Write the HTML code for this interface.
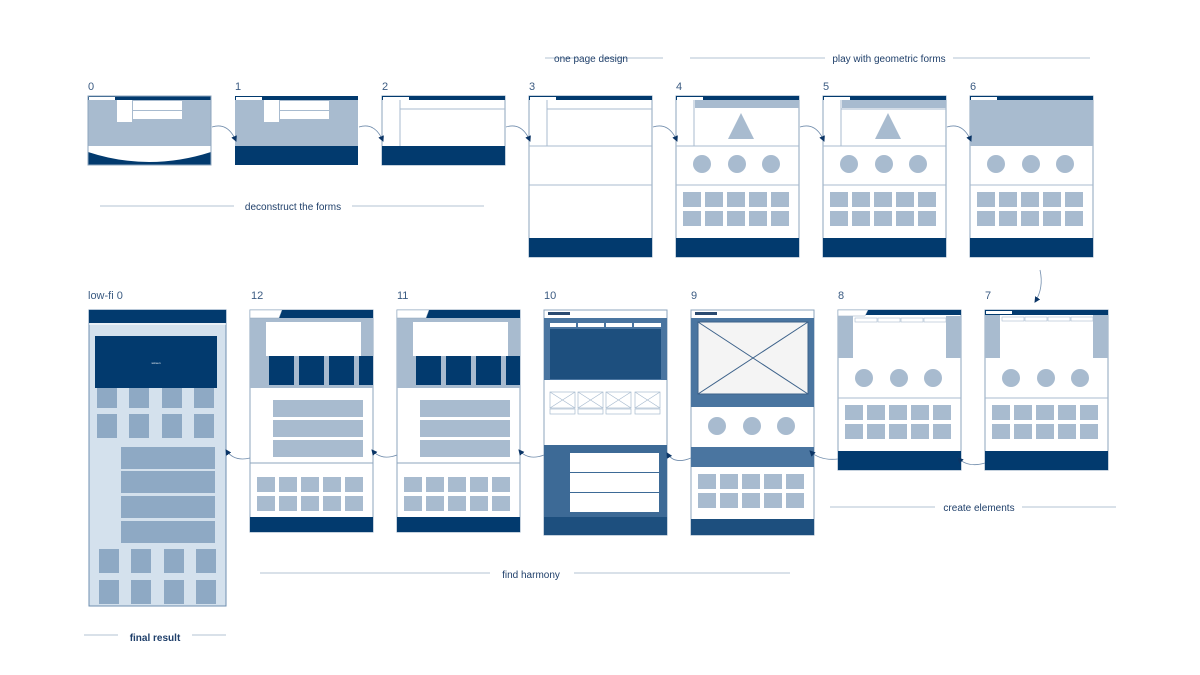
<!DOCTYPE html>
<html><head><meta charset="utf-8"><style>
html,body{margin:0;padding:0;background:#fff;}
svg{display:block;font-family:"Liberation Sans",sans-serif;}
</style></head><body>
<svg width="1200" height="675" viewBox="0 0 1200 675" xmlns="http://www.w3.org/2000/svg">
<defs>
<marker id="ah" markerWidth="6" markerHeight="6" refX="5" refY="3" orient="auto" markerUnits="userSpaceOnUse"><path d="M0,0 L6,3 L0,6 z" fill="#0b3566"/></marker>
<g id="grid5">
 <rect x="7" y="0" width="18" height="15" fill="#a8bbcf"/><rect x="29" y="0" width="18" height="15" fill="#a8bbcf"/><rect x="51" y="0" width="18" height="15" fill="#a8bbcf"/><rect x="73" y="0" width="18" height="15" fill="#a8bbcf"/><rect x="95" y="0" width="18" height="15" fill="#a8bbcf"/>
 <rect x="7" y="19" width="18" height="15" fill="#a8bbcf"/><rect x="29" y="19" width="18" height="15" fill="#a8bbcf"/><rect x="51" y="19" width="18" height="15" fill="#a8bbcf"/><rect x="73" y="19" width="18" height="15" fill="#a8bbcf"/><rect x="95" y="19" width="18" height="15" fill="#a8bbcf"/>
</g>
<g id="circ3"><circle cx="26" cy="0" r="9" fill="#a8bbcf"/><circle cx="61" cy="0" r="9" fill="#a8bbcf"/><circle cx="95" cy="0" r="9" fill="#a8bbcf"/></g>
<g id="logoW"><rect x="1" y="1" width="26" height="3" fill="#fff"/></g>
</defs>

<g fill="#3b5b82" font-size="11">
<text x="88" y="90">0</text><text x="235" y="90">1</text><text x="382" y="90">2</text><text x="529" y="90">3</text><text x="676" y="90">4</text><text x="823" y="90">5</text><text x="970" y="90">6</text>
<text x="88" y="299">low-fi  0</text><text x="251" y="299">12</text><text x="397" y="299">11</text><text x="544" y="299">10</text><text x="691" y="299">9</text><text x="838" y="299">8</text><text x="985" y="299">7</text>
</g>

<g stroke="#b3c3d3" stroke-width="1">
<line x1="545" y1="58" x2="578" y2="58"/><line x1="604" y1="58" x2="663" y2="58"/>
<line x1="690" y1="58" x2="825" y2="58"/><line x1="953" y1="58" x2="1090" y2="58"/>
<line x1="100" y1="206" x2="234" y2="206"/><line x1="352" y1="206" x2="484" y2="206"/>
<line x1="830" y1="507" x2="935" y2="507"/><line x1="1022" y1="507" x2="1116" y2="507"/>
<line x1="260" y1="573" x2="490" y2="573"/><line x1="574" y1="573" x2="790" y2="573"/>
<line x1="84" y1="635" x2="118" y2="635"/><line x1="192" y1="635" x2="226" y2="635"/>
</g>
<g fill="#1f3f6a" font-size="10" text-anchor="middle">
<text x="591" y="62">one page design</text>
<text x="889" y="62">play with geometric forms</text>
<text x="293" y="210">deconstruct the forms</text>
<text x="979" y="511">create elements</text>
<text x="531" y="578">find harmony</text>
<text x="155" y="641" font-weight="bold">final result</text>
</g>

<!-- frame 0 -->
<g transform="translate(88,96)">
<rect width="123" height="69" fill="#a8bbcf"/>
<rect width="123" height="4" fill="#023a6e"/><use href="#logoW"/>
<rect x="29" y="4" width="15" height="22" fill="#fff"/>
<rect x="45" y="5" width="49" height="9" fill="#fff"/><rect x="45" y="15" width="49" height="8" fill="#fff"/>
<rect x="0" y="50" width="123" height="19" fill="#023a6e"/>
<path d="M0,50 H123 V56 Q61,76 0,56 Z" fill="#fff"/>
<rect width="123" height="69" fill="none" stroke="#8ea5bd"/>
</g>
<!-- frame 1 -->
<g transform="translate(235,96)">
<rect width="123" height="69" fill="#a8bbcf"/>
<rect width="123" height="4" fill="#023a6e"/><use href="#logoW"/>
<rect x="29" y="4" width="15" height="22" fill="#fff"/>
<rect x="45" y="5" width="49" height="9" fill="#fff"/><rect x="45" y="15" width="49" height="8" fill="#fff"/>
<rect x="0" y="50" width="123" height="19" fill="#023a6e"/>
</g>
<!-- frame 2 -->
<g transform="translate(382,96)">
<rect width="123" height="69" fill="#fff" stroke="#8ea5bd"/>
<rect width="123" height="4" fill="#023a6e"/><use href="#logoW"/>
<line x1="18" y1="4" x2="18" y2="50" stroke="#a8bbcf"/><line x1="18" y1="13" x2="123" y2="13" stroke="#a8bbcf"/>
<rect x="0" y="50" width="123" height="19" fill="#023a6e"/>
</g>
<!-- frame 3 -->
<g transform="translate(529,96)">
<rect width="123" height="161" fill="#fff" stroke="#8ea5bd"/>
<rect width="123" height="4" fill="#023a6e"/><use href="#logoW"/>
<line x1="18" y1="4" x2="18" y2="50" stroke="#a8bbcf"/><line x1="18" y1="13" x2="123" y2="13" stroke="#a8bbcf"/>
<line x1="0" y1="50" x2="123" y2="50" stroke="#a8bbcf"/><line x1="0" y1="89" x2="123" y2="89" stroke="#a8bbcf"/>
<rect x="0" y="142" width="123" height="19" fill="#023a6e"/>
</g>
<!-- frame 4,5 -->
<g transform="translate(676,96)">
<rect width="123" height="161" fill="#fff" stroke="#8ea5bd"/>
<rect width="123" height="4" fill="#023a6e"/><use href="#logoW"/>
<rect x="19" y="4" width="104" height="8" fill="#a8bbcf"/>
<line x1="18" y1="4" x2="18" y2="50" stroke="#a8bbcf"/>
<path d="M65,17 L78,43 L52,43 Z" fill="#a8bbcf"/>
<line x1="0" y1="50" x2="123" y2="50" stroke="#a8bbcf"/><line x1="0" y1="89" x2="123" y2="89" stroke="#a8bbcf"/>
<use href="#circ3" y="68"/><use href="#grid5" y="96"/>
<rect x="0" y="142" width="123" height="19" fill="#023a6e"/>
</g>
<g transform="translate(823,96)">
<rect width="123" height="161" fill="#fff" stroke="#8ea5bd"/>
<rect width="123" height="4" fill="#023a6e"/><use href="#logoW"/>
<rect x="19" y="4" width="104" height="8" fill="#a8bbcf"/>
<line x1="18" y1="4" x2="18" y2="50" stroke="#a8bbcf"/><line x1="18" y1="13" x2="123" y2="13" stroke="#a8bbcf"/>
<path d="M65,17 L78,43 L52,43 Z" fill="#a8bbcf"/>
<line x1="0" y1="50" x2="123" y2="50" stroke="#a8bbcf"/><line x1="0" y1="89" x2="123" y2="89" stroke="#a8bbcf"/>
<use href="#circ3" y="68"/><use href="#grid5" y="96"/>
<rect x="0" y="142" width="123" height="19" fill="#023a6e"/>
</g>
<!-- frame 6 -->
<g transform="translate(970,96)">
<rect width="123" height="161" fill="#fff" stroke="#8ea5bd"/>
<rect width="123" height="50" fill="#a8bbcf"/>
<rect width="123" height="4" fill="#023a6e"/><use href="#logoW"/>
<line x1="0" y1="89" x2="123" y2="89" stroke="#a8bbcf"/>
<use href="#circ3" y="68"/><use href="#grid5" y="96"/>
<rect x="0" y="142" width="123" height="19" fill="#023a6e"/>
</g>

<!-- frame 7, 8 -->
<g transform="translate(985,310)">
<rect width="123" height="160" fill="#fff" stroke="#8ea5bd"/>
<rect width="123" height="5" fill="#023a6e"/><use href="#logoW"/>
<rect x="0" y="5" width="15" height="43" fill="#a8bbcf"/><rect x="108" y="5" width="15" height="43" fill="#a8bbcf"/>
<g fill="#fff" stroke="#a8bbcf" stroke-width="0.6"><rect x="17" y="7" width="22" height="4"/><rect x="40" y="7" width="22" height="4"/><rect x="63" y="7" width="22" height="4"/><rect x="86" y="7" width="22" height="4"/></g>
<line x1="0" y1="88" x2="123" y2="88" stroke="#a8bbcf"/>
<use href="#circ3" y="68"/><use href="#grid5" y="95"/>
<rect x="0" y="141" width="123" height="19" fill="#023a6e"/>
</g>
<g transform="translate(838,310)">
<rect width="123" height="160" fill="#fff" stroke="#8ea5bd"/>
<rect width="123" height="5" fill="#023a6e"/><path d="M0,0 H30 L27,6 H0 Z" fill="#fff" stroke="#8ea5bd" stroke-width="0.5"/>
<rect x="0" y="6" width="15" height="42" fill="#a8bbcf"/><rect x="108" y="6" width="15" height="42" fill="#a8bbcf"/>
<g fill="#fff" stroke="#a8bbcf" stroke-width="0.6"><rect x="17" y="8" width="22" height="4"/><rect x="40" y="8" width="22" height="4"/><rect x="63" y="8" width="22" height="4"/><rect x="86" y="8" width="22" height="4"/></g>
<line x1="0" y1="88" x2="123" y2="88" stroke="#a8bbcf"/>
<use href="#circ3" y="68"/><use href="#grid5" y="95"/>
<rect x="0" y="141" width="123" height="19" fill="#023a6e"/>
</g>
<!-- frame 9 -->
<g transform="translate(691,310)">
<rect width="123" height="225" fill="#fff" stroke="#8ea5bd"/>
<rect x="0" y="8" width="123" height="89" fill="#4a75a0"/>
<rect x="7" y="12" width="110" height="72" fill="#f4f4f4" stroke="#3d628a"/>
<line x1="7" y1="12" x2="117" y2="84" stroke="#3d628a"/><line x1="117" y1="12" x2="7" y2="84" stroke="#3d628a"/>
<use href="#circ3" y="116"/>
<rect x="0" y="137" width="123" height="20" fill="#4a75a0"/>
<use href="#grid5" y="164"/>
<rect x="0" y="209" width="123" height="16" fill="#1d4f7e"/>
<rect x="4" y="2" width="22" height="3" fill="#2a4a70"/>
</g>
<!-- frame 10 -->
<g transform="translate(544,310)">
<rect width="123" height="225" fill="#fff" stroke="#8ea5bd"/>
<rect x="0" y="8" width="123" height="62" fill="#4a75a0"/>
<g fill="#fff"><rect x="6" y="13" width="26" height="4"/><rect x="34" y="13" width="26" height="4"/><rect x="62" y="13" width="26" height="4"/><rect x="90" y="13" width="27" height="4"/></g>
<rect x="6" y="19" width="111" height="50" fill="#1d4f7e"/>
<g fill="none" stroke="#a8bbcf" stroke-width="0.7">
<rect x="6" y="82" width="25" height="16"/><rect x="34" y="82" width="25" height="16"/><rect x="62" y="82" width="25" height="16"/><rect x="91" y="82" width="25" height="16"/>
<path d="M6,82 L31,98 M31,82 L6,98 M34,82 L59,98 M59,82 L34,98 M62,82 L87,98 M87,82 L62,98 M91,82 L116,98 M116,82 L91,98"/>
<rect x="6" y="99" width="25" height="5"/><rect x="34" y="99" width="25" height="5"/><rect x="62" y="99" width="25" height="5"/><rect x="91" y="99" width="25" height="5"/>
</g>
<rect x="0" y="135" width="123" height="72" fill="#3d6a96"/>
<g fill="#fff"><rect x="26" y="143" width="89" height="19"/><rect x="26" y="163" width="89" height="19"/><rect x="26" y="183" width="89" height="19"/></g>
<rect x="0" y="207" width="123" height="18" fill="#1d4f7e"/>
<rect x="4" y="2" width="22" height="3" fill="#2a4a70"/>
</g>
<!-- frame 11, 12 -->
<g transform="translate(397,310)">
<rect width="123" height="222" fill="#fff" stroke="#8ea5bd"/>
<rect x="0" y="8" width="123" height="70" fill="#a8bbcf"/>
<rect x="16" y="12" width="95" height="34" fill="#fff"/>
<g fill="#023a6e"><rect x="19" y="46" width="25" height="29"/><rect x="49" y="46" width="25" height="29"/><rect x="79" y="46" width="25" height="29"/><rect x="109" y="46" width="14" height="29"/></g>
<rect width="123" height="8" fill="#023a6e"/><path d="M0,0 H32 L29,8 H0 Z" fill="#fff" stroke="#8ea5bd" stroke-width="0.5"/>
<g fill="#a8bbcf"><rect x="23" y="90" width="90" height="17"/><rect x="23" y="110" width="90" height="17"/><rect x="23" y="130" width="90" height="17"/></g>
<line x1="0" y1="153" x2="123" y2="153" stroke="#8ea5bd"/>
<use href="#grid5" y="167"/>
<rect x="0" y="207" width="123" height="15" fill="#023a6e"/>
</g>
<g transform="translate(250,310)">
<rect width="123" height="222" fill="#fff" stroke="#8ea5bd"/>
<rect x="0" y="8" width="123" height="70" fill="#a8bbcf"/>
<rect x="16" y="12" width="95" height="34" fill="#fff"/>
<g fill="#023a6e"><rect x="19" y="46" width="25" height="29"/><rect x="49" y="46" width="25" height="29"/><rect x="79" y="46" width="25" height="29"/><rect x="109" y="46" width="14" height="29"/></g>
<rect width="123" height="8" fill="#023a6e"/><path d="M0,0 H32 L29,8 H0 Z" fill="#fff" stroke="#8ea5bd" stroke-width="0.5"/>
<g fill="#a8bbcf"><rect x="23" y="90" width="90" height="17"/><rect x="23" y="110" width="90" height="17"/><rect x="23" y="130" width="90" height="17"/></g>
<line x1="0" y1="153" x2="123" y2="153" stroke="#8ea5bd"/>
<use href="#grid5" y="167"/>
<rect x="0" y="207" width="123" height="15" fill="#023a6e"/>
</g>
<!-- low-fi 0 -->
<g transform="translate(89,310)">
<rect width="137" height="296" fill="#d4e1ed" stroke="#6f8fb0"/>
<rect width="137" height="13" fill="#023a6e"/>
<line x1="0" y1="14" x2="137" y2="14" stroke="#fff"/>
<rect x="6" y="26" width="122" height="52" fill="#023a6e"/>
<text x="67" y="54" font-size="3" fill="#fff" text-anchor="middle">screen</text>
<g fill="#8ea9c4">
<rect x="8" y="78" width="20" height="20"/><rect x="40" y="78" width="20" height="20"/><rect x="73" y="78" width="20" height="20"/><rect x="105" y="78" width="20" height="20"/>
<rect x="8" y="104" width="20" height="24"/><rect x="40" y="104" width="20" height="24"/><rect x="73" y="104" width="20" height="24"/><rect x="105" y="104" width="20" height="24"/>
<rect x="32" y="137" width="94" height="22"/><rect x="32" y="161" width="94" height="22"/><rect x="32" y="186" width="94" height="22"/><rect x="32" y="211" width="94" height="22"/>
<rect x="10" y="239" width="20" height="24"/><rect x="42" y="239" width="20" height="24"/><rect x="75" y="239" width="20" height="24"/><rect x="107" y="239" width="20" height="24"/>
<rect x="10" y="270" width="20" height="24"/><rect x="42" y="270" width="20" height="24"/><rect x="75" y="270" width="20" height="24"/><rect x="107" y="270" width="20" height="24"/>
</g>
</g>

<!-- arrows -->
<g fill="none" stroke="#6f8bab" stroke-width="0.8" marker-end="url(#ah)">
<path d="M212,127 Q228,122 236,141"/>
<path d="M359,127 Q375,122 383,141"/>
<path d="M506,127 Q522,122 530,141"/>
<path d="M653,127 Q669,122 677,141"/>
<path d="M800,127 Q816,122 824,141"/>
<path d="M947,127 Q963,122 971,141"/>
<path d="M1040,270 Q1044,288 1035,302"/>
<path d="M985,463 Q968,468 958,458"/>
<path d="M838,459 Q820,461 810,451"/>
<path d="M691,458 Q674,465 667,453"/>
<path d="M544,455 Q528,461 519,450"/>
<path d="M397,455 Q381,461 372,450"/>
<path d="M250,458 Q234,462 226,450"/>
</g>
</svg>
</body></html>
